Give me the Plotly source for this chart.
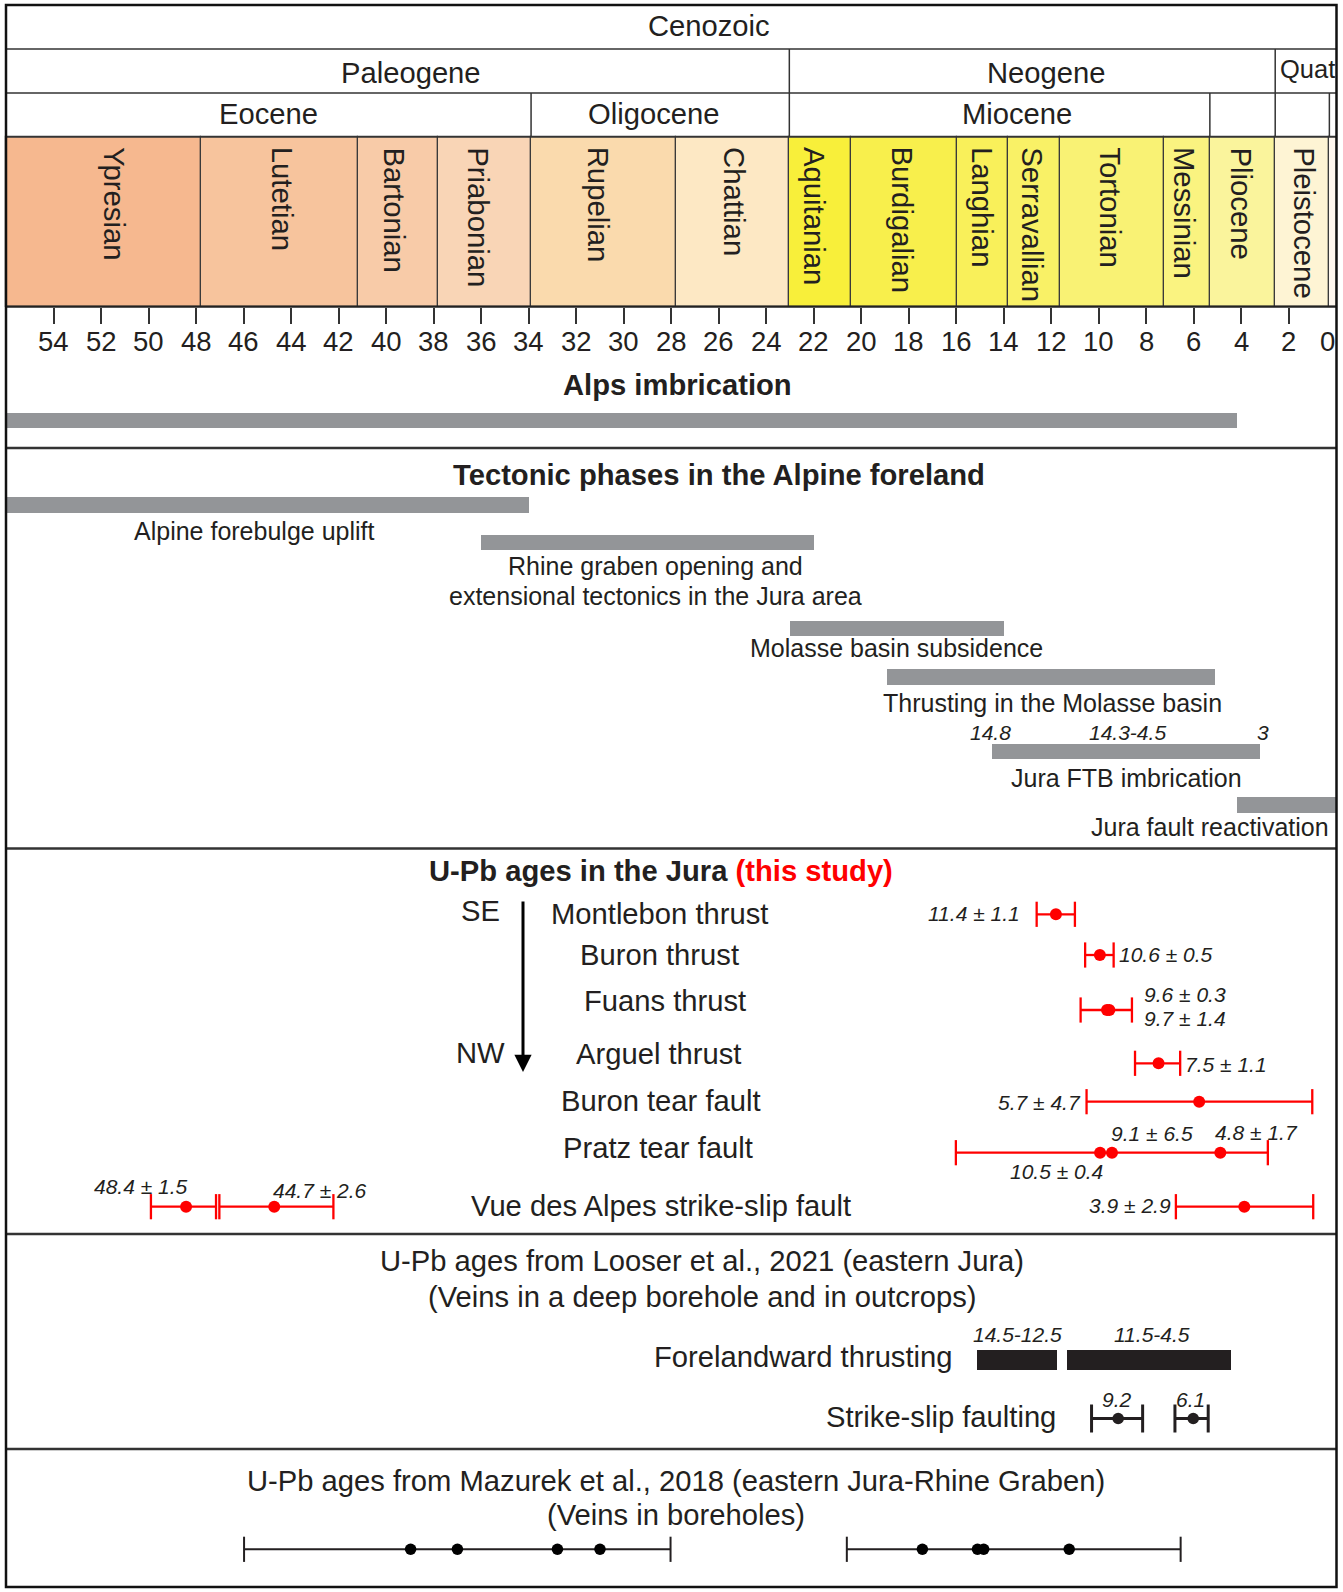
import plotly.graph_objects as go

W, H = 1343, 1592
FONT = "Liberation Sans, Arial, Helvetica, sans-serif"
INK = "#231F20"
GRAY = "#939598"
RED = "#FF0000"

# ---------------- data ----------------
STAGE_NAMES = ["Ypresian", "Lutetian", "Bartonian", "Priabonian", "Rupelian", "Chattian",
               "Aquitanian", "Burdigalian", "Langhian", "Serravallian", "Tortonian",
               "Messinian", "Pliocene", "Pleistocene", ""]
STAGE_OLD = [56.0, 47.8, 41.2, 37.8, 33.9, 27.82, 23.03, 20.44, 15.97, 13.82, 11.63, 7.25, 5.33, 2.58, 0.3]
STAGE_YOUNG = [47.8, 41.2, 37.8, 33.9, 27.82, 23.03, 20.44, 15.97, 13.82, 11.63, 7.25, 5.33, 2.58, 0.3, 0.0]
STAGE_COLORS = ["#F6B88F", "#F7C49D", "#F8CBA8", "#F9D5B6", "#FADAAD", "#FDE8C4",
                "#F8EF3A", "#F8EF4C", "#F9F05A", "#F9F166", "#F9F274", "#FAF380",
                "#FAF49C", "#FEF4D4", "#FEF7EE"]
STAGE_LABEL_DX = [11, 4, -4, -6, -4, 2, -5, -1, 0, -2, -2, -2, -1, 2, 0]   # px nudges of labels

PERIOD_NAMES = ["Paleogene", "Neogene", "Quat"]
PERIOD_BOUNDS = [23.03, 2.58]
EPOCH_NAMES = ["Eocene", "Oligocene", "Miocene"]
EPOCH_BOUNDS = [33.9, 23.03, 5.33, 2.58, 0.3]

TICK_AGES = list(range(54, 0, -2))
TICK_LABELS = [str(t) for t in TICK_AGES]

ALPS_OLD, ALPS_YOUNG = [56.0], [4.2]

PHASE_NAMES = ["Alpine forebulge uplift", "Rhine graben opening and",
               "Molasse basin subsidence", "Thrusting in the Molasse basin",
               "Jura FTB imbrication", "Jura fault reactivation"]
PHASE_OLD = [56.0, 36.0, 23.0, 18.9, 14.5, 4.2]
PHASE_YOUNG = [34.0, 22.0, 14.0, 5.1, 3.2, 0.0]
FTB_AGE_LABELS = ["14.8", "14.3-4.5", "3"]

FAULT_NAMES = ["Montlebon thrust", "Buron thrust", "Fuans thrust", "Arguel thrust",
               "Buron tear fault", "Pratz tear fault", "Vue des Alpes strike-slip fault"]
UPB_POINT_ROW = [0, 1, 2, 2, 3, 4, 5, 5, 5, 6, 6, 6]
UPB_POINT_AGE = [11.81, 9.96, 9.66, 9.56, 7.49, 5.78, 9.95, 9.45, 4.89, 48.42, 44.71, 3.88]
UPB_RANGE_ROW = [0, 1, 2, 3, 4, 5, 6, 6, 6]
UPB_RANGE_OLD = [12.62, 10.58, 10.77, 8.48, 10.52, 16.02, 49.90, 47.02, 6.76]
UPB_RANGE_YOUNG = [11.01, 9.38, 8.61, 6.58, 1.02, 2.89, 47.16, 42.22, 0.98]
UPB_LABELS = ["11.4 ± 1.1", "10.6 ± 0.5", "9.6 ± 0.3", "9.7 ± 1.4", "7.5 ± 1.1",
              "5.7 ± 4.7", "9.1 ± 6.5", "4.8 ± 1.7", "10.5 ± 0.4", "3.9 ± 2.9",
              "48.4 ± 1.5", "44.7 ± 2.6"]

LOOSER_THRUST_OLD = [15.12, 11.33]
LOOSER_THRUST_YOUNG = [11.78, 4.46]
LOOSER_THRUST_LABELS = ["14.5-12.5", "11.5-4.5"]
LOOSER_SS_AGE = [9.19, 6.03]
LOOSER_SS_OLD = [10.31, 6.80]
LOOSER_SS_YOUNG = [8.16, 5.40]
LOOSER_SS_LABELS = ["9.2", "6.1"]

MAZ_RANGE_OLD = [45.98, 20.61]
MAZ_RANGE_YOUNG = [28.03, 6.56]
MAZ_AGES = [38.97, 37.00, 32.79, 31.00, 17.43, 15.11, 14.85, 11.25]

# ---------------- layout geometry (pixels) ----------------
FRAME_L, FRAME_R, FRAME_T, FRAME_B = 6.0, 1336.5, 5.0, 1587.0
AGE_MAX, AGE_MIN = 56.0, 0.0
PPM = (FRAME_R - FRAME_L) / (AGE_MAX - AGE_MIN)
X_RANGE = [AGE_MAX + FRAME_L / PPM, AGE_MIN - (W - FRAME_R) / PPM]

Y_ERA, Y_PER, Y_EPO, Y_STG = 49.0, 93.0, 137.0, 306.7
SECTION_LINES = [448.0, 848.5, 1234.0, 1449.0]

BIG = 29.2      # main text size
fig = go.Figure()
annotations = []
shapes = []


def txt(s, x, y, size=BIG, xanchor="center", yanchor="middle", color=INK, angle=0,
        xref="paper", xshift=0):
    annotations.append(dict(
        text=s, x=(x / W if xref == "paper" else x), y=y, xref=xref, yref="y",
        xanchor=xanchor, yanchor=yanchor, showarrow=False, textangle=angle, xshift=xshift,
        font=dict(family=FONT, size=size, color=color)))


def hbar(old, young, yc, thick, color, line_color=None, line_w=0):
    fig.add_trace(go.Bar(
        orientation="h", base=young, x=[o - y for o, y in zip(old, young)],
        y=[yc] * len(old), width=[thick] * len(old),
        marker=dict(color=color, line=dict(color=line_color or color, width=line_w)),
        hoverinfo="skip", showlegend=False))


def ranges(old, young, ys, color, lw, cap):
    xs, yy = [], []
    for o, yg, y in zip(old, young, ys):
        xs += [o, yg, None]
        yy += [y, y, None]
    fig.add_trace(go.Scatter(x=xs, y=yy, mode="lines", line=dict(color=color, width=lw),
                             hoverinfo="skip", showlegend=False))
    fig.add_trace(go.Scatter(x=list(old) + list(young), y=list(ys) + list(ys), mode="markers",
                             marker=dict(symbol="line-ns", size=cap,
                                         line=dict(color=color, width=lw)),
                             hoverinfo="skip", showlegend=False))


def points(ages, ys, color, size):
    fig.add_trace(go.Scatter(x=ages, y=ys, mode="markers",
                             marker=dict(color=color, size=size, line=dict(width=0)),
                             hoverinfo="skip", showlegend=False))


# ---------------- time scale ----------------
stage_y = (Y_EPO + Y_STG) / 2
for o, yg, c in zip(STAGE_OLD, STAGE_YOUNG, STAGE_COLORS):
    hbar([o], [yg], stage_y, Y_STG - Y_EPO, c, "#3A3A3A", 1.2)
for name, o, yg, dx in zip(STAGE_NAMES, STAGE_OLD, STAGE_YOUNG, STAGE_LABEL_DX):
    if name:
        txt(name, (o + yg) / 2, Y_EPO + 8, size=29.3, yanchor="top", angle=90, xref="x",
            xshift=dx)

for b in PERIOD_BOUNDS:
    shapes.append(dict(type="line", xref="x", yref="y", x0=b, x1=b, y0=Y_ERA, y1=Y_PER,
                       line=dict(color="#333", width=1.5)))
for b in EPOCH_BOUNDS:
    shapes.append(dict(type="line", xref="x", yref="y", x0=b, x1=b, y0=Y_PER, y1=Y_EPO,
                       line=dict(color="#333", width=1.5)))
for yl in [Y_ERA, Y_PER, Y_EPO]:
    shapes.append(dict(type="line", xref="paper", yref="y", x0=FRAME_L / W, x1=FRAME_R / W,
                       y0=yl, y1=yl, line=dict(color="#333", width=1.5)))
shapes.append(dict(type="line", xref="paper", yref="y", x0=FRAME_L / W, x1=FRAME_R / W,
                   y0=Y_STG, y1=Y_STG, line=dict(color="#222", width=2.2)))
for yl in SECTION_LINES:
    shapes.append(dict(type="line", xref="paper", yref="y", x0=FRAME_L / W, x1=FRAME_R / W,
                       y0=yl, y1=yl, line=dict(color="#333", width=2.5)))
shapes.append(dict(type="rect", xref="paper", yref="y", x0=FRAME_L / W, x1=FRAME_R / W,
                   y0=FRAME_T, y1=FRAME_B, line=dict(color="#111", width=2.5)))

txt("Cenozoic", 709, 25.5)
for name, xp in zip(PERIOD_NAMES, [411, 1046, 1307]):
    txt(name, xp, 73 if name != "Quat" else 69, size=BIG if name != "Quat" else 25.5)
for name, xp in zip(EPOCH_NAMES, [268, 653, 1017]):
    txt(name, xp, 114)

# tick labels (ticks themselves come from the x axis)
for t, lab in zip(TICK_AGES, TICK_LABELS):
    txt(lab, t, 341, size=27.5, xref="x")
txt("0", AGE_MIN, 341, size=27.5, xanchor="right", xref="x")

# ---------------- Alps imbrication ----------------
txt("<b>Alps imbrication</b>", 677, 384.5)
hbar(ALPS_OLD, ALPS_YOUNG, 420.8, 15.3, GRAY)

# ---------------- tectonic phases ----------------
txt("<b>Tectonic phases in the Alpine foreland</b>", 719, 475)
PHASE_Y = [505.0, 542.7, 628.3, 677.0, 751.7, 805.0]
for o, yg, yc in zip(PHASE_OLD, PHASE_YOUNG, PHASE_Y):
    hbar([o], [yg], yc, 15.3, GRAY)
txt(PHASE_NAMES[0], 254, 531, size=25)
txt(PHASE_NAMES[1], 655, 566, size=25)
txt("extensional tectonics in the Jura area", 655, 596, size=25)
txt(PHASE_NAMES[2], 896, 648, size=25)
txt(PHASE_NAMES[3], 1052, 703, size=25)
txt(PHASE_NAMES[4], 1126, 778, size=25)
txt(PHASE_NAMES[5], 1210, 826.5, size=25)
for s, xp in zip(FTB_AGE_LABELS, [990, 1127, 1263]):
    txt("<i>" + s + "</i>", xp, 732.5, size=21)

# ---------------- U-Pb ages in the Jura ----------------
txt("<b>U-Pb ages in the Jura <span style='color:#FF0000'>(this study)</span></b>", 661, 871)
annotations.append(dict(x=523 / W, y=1072, xref="paper", yref="y", ax=0, ay=-172,
                        text="", showarrow=True, arrowhead=2, arrowsize=1.15,
                        arrowwidth=3.0, arrowcolor="#000"))
txt("SE", 481, 911)
txt("NW", 481, 1053)

FAULT_LABEL_Y = [914, 954.5, 1001, 1054, 1100.7, 1148.4, 1206.3]
FAULT_LABEL_X = [659, 659, 665, 658, 661, 658, 661]
for name, xp, yp in zip(FAULT_NAMES, FAULT_LABEL_X, FAULT_LABEL_Y):
    txt(name, xp, yp)

FAULT_Y = [914.3, 955.0, 1010.0, 1063.3, 1101.7, 1152.7, 1206.7]
ranges(UPB_RANGE_OLD, UPB_RANGE_YOUNG, [FAULT_Y[r] for r in UPB_RANGE_ROW], RED, 2.3, 18)
points(UPB_POINT_AGE, [FAULT_Y[r] for r in UPB_POINT_ROW], RED, 12)

UPB_LABEL_POS = [(1022, 913, "right"), (1117, 954, "left"), (1142, 994, "left"),
                 (1142, 1018, "left"), (1183, 1064, "left"), (1083, 1102.5, "right"),
                 (1152, 1133.3, "center"), (1256, 1132, "center"), (1056, 1171, "center"),
                 (1173, 1205, "right"), (141, 1186, "center"), (320, 1190, "center")]
for s, (xp, yp, anc) in zip(UPB_LABELS, UPB_LABEL_POS):
    txt("<i>" + s + "</i>", xp, yp, size=21, xanchor=anc)

# ---------------- Looser et al. 2021 ----------------
txt("U-Pb ages from Looser et al., 2021 (eastern Jura)", 702, 1261)
txt("(Veins in a deep borehole and in outcrops)", 702, 1297)
txt("Forelandward thrusting", 955, 1357, xanchor="right")
hbar(LOOSER_THRUST_OLD, LOOSER_THRUST_YOUNG, 1360.0, 20.0, INK)
for s, xp in zip(LOOSER_THRUST_LABELS, [1017, 1152]):
    txt("<i>" + s + "</i>", xp, 1334, size=21)
txt("Strike-slip faulting", 1058, 1417, xanchor="right")
ranges(LOOSER_SS_OLD, LOOSER_SS_YOUNG, [1418.5] * 2, INK, 3.0, 20)
points(LOOSER_SS_AGE, [1418.5] * 2, INK, 11.5)
for s, xp in zip(LOOSER_SS_LABELS, [1117, 1190]):
    txt("<i>" + s + "</i>", xp, 1399.5, size=21)

# ---------------- Mazurek et al. 2018 ----------------
txt("U-Pb ages from Mazurek et al., 2018 (eastern Jura-Rhine Graben)", 676, 1480.5)
txt("(Veins in boreholes)", 676, 1515)
ranges(MAZ_RANGE_OLD, MAZ_RANGE_YOUNG, [1549.3] * 2, INK, 2.0, 18)
points(MAZ_AGES, [1549.3] * len(MAZ_AGES), "#000", 11.5)

fig.update_layout(
    width=W, height=H, margin=dict(l=0, r=0, t=0, b=0),
    paper_bgcolor="white", plot_bgcolor="white", showlegend=False,
    barmode="overlay", bargap=0,
    xaxis=dict(range=X_RANGE, showgrid=False, zeroline=False, showline=False,
               tickvals=TICK_AGES, showticklabels=False,
               ticks="outside", ticklen=16, tickwidth=1.5, tickcolor="#333",
               anchor="free", position=1 - Y_STG / H, fixedrange=True),
    yaxis=dict(range=[H, 0], visible=False, fixedrange=True),
    shapes=shapes, annotations=annotations,
)

fig.write_html("out.html", config={"displayModeBar": False},
               post_script="document.body.style.margin='0';")
